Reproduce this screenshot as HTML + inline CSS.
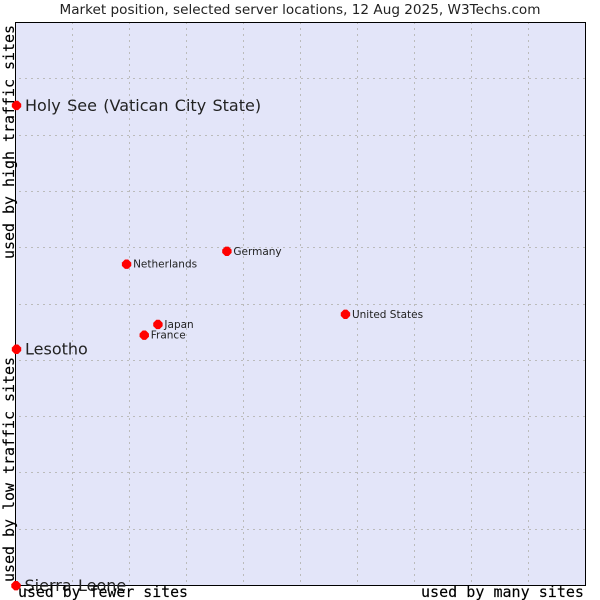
<!DOCTYPE html>
<html>
<head>
<meta charset="utf-8">
<style>
html,body{margin:0;padding:0;background:#fff;width:600px;height:600px;overflow:hidden}
svg{display:block}
.title{font:13px "DejaVu Sans",sans-serif;fill:#222}
.big{font:16px "DejaVu Sans",sans-serif;fill:#222;word-spacing:1.25px}
.small{font:10.5px "DejaVu Sans",sans-serif;fill:#222}
.axis{font:15px "DejaVu Sans Mono",monospace;fill:#000;stroke:#000;stroke-width:.15px}
</style>
</head>
<body>
<svg id="chart" width="600" height="600" viewBox="0 0 600 600" xmlns="http://www.w3.org/2000/svg">
<rect x="0" y="0" width="600" height="600" fill="#ffffff"/>
<rect x="15.5" y="22.5" width="570" height="563" fill="#e3e5f9"/>
<g id="grid" shape-rendering="crispEdges"></g>
<rect x="15.5" y="22.5" width="570" height="563" fill="none" stroke="#000" stroke-width="1" shape-rendering="crispEdges"/>
<text class="title" x="300" y="14" text-anchor="middle" textLength="481" lengthAdjust="spacingAndGlyphs">Market position, selected server locations, 12 Aug 2025, W3Techs.com</text>
<g id="points"></g>
<text class="axis" x="18" y="597" textLength="170" lengthAdjust="spacingAndGlyphs">used by fewer sites</text>
<text class="axis" x="584" y="597" text-anchor="end" textLength="163" lengthAdjust="spacingAndGlyphs">used by many sites</text>
<text class="axis" transform="translate(14,582) rotate(-90)" textLength="225" lengthAdjust="spacingAndGlyphs">used by low traffic sites</text>
<text class="axis" transform="translate(14,259) rotate(-90)" textLength="234" lengthAdjust="spacingAndGlyphs">used by high traffic sites</text>
</svg>
<script>
const countries = ["Holy See (Vatican City State)", "Lesotho", "Sierra Leone", "Netherlands", "Germany", "United States", "Japan", "France"];
const sitesUsage = [0.09, 0.09, 0, 19.4, 37, 57.8, 24.9, 22.5];
const trafficShare = [85.3, 42, 0, 57.1, 59.4, 48.2, 46.4, 44.5];
const emphasized = [true, true, true, false, false, false, false, false];
const gridTicks = [10, 20, 30, 40, 50, 60, 70, 80, 90];

const svgNS = 'http://www.w3.org/2000/svg';
const xScale = function (v) { return 15.5 + v * 5.7; };
const yScale = function (v) { return 585.5 - v * 5.63; };
const gridGroup = document.getElementById('grid');
const pointGroup = document.getElementById('points');

gridTicks.forEach(function (t) {
  const vLine = document.createElementNS(svgNS, 'line');
  
  
  vLine.setAttribute('x1', Math.floor(xScale(t)) + 0.5);
  vLine.setAttribute('x2', Math.floor(xScale(t)) + 0.5);
  vLine.setAttribute('y1', 22);
  vLine.setAttribute('y2', 585);
  vLine.setAttribute('stroke', '#bbbbbb');
  vLine.setAttribute('stroke-dasharray', '2 4');
  gridGroup.appendChild(vLine);

  const hLine = document.createElementNS(svgNS, 'line');
  
  
  hLine.setAttribute('x1', 15);
  hLine.setAttribute('x2', 585);
  hLine.setAttribute('y1', Math.floor(yScale(t)) + 0.5);
  hLine.setAttribute('y2', Math.floor(yScale(t)) + 0.5);
  hLine.setAttribute('stroke', '#bbbbbb');
  hLine.setAttribute('stroke-dasharray', '2 4');
  hLine.setAttribute('stroke-dashoffset', '2');
  gridGroup.appendChild(hLine);
});

countries.forEach(function (name, i) {
  const cx = xScale(sitesUsage[i]);
  const cy = yScale(trafficShare[i]);

  const dot = document.createElementNS(svgNS, 'path');
  
  
  dot.setAttribute('transform', 'translate(' + (cx + 0.5) + ',' + (cy + 0.2) + ')');
  dot.setAttribute('d', 'M-1.6-4.7H1.6L4.7-1.6V1.6L1.6,4.7H-1.6L-4.7,1.6V-1.6Z');
  dot.setAttribute('fill', '#ff0000');
  pointGroup.appendChild(dot);

  const label = document.createElementNS(svgNS, 'text');
  
  
  label.setAttribute('class', emphasized[i] ? 'big' : 'small');
  label.setAttribute('x', cx + (emphasized[i] ? 9 : 7));
  label.setAttribute('y', cy + (emphasized[i] ? 5.5 : 3.7));
  label.textContent = name;
  pointGroup.appendChild(label);
});
</script>
</body>
</html>
